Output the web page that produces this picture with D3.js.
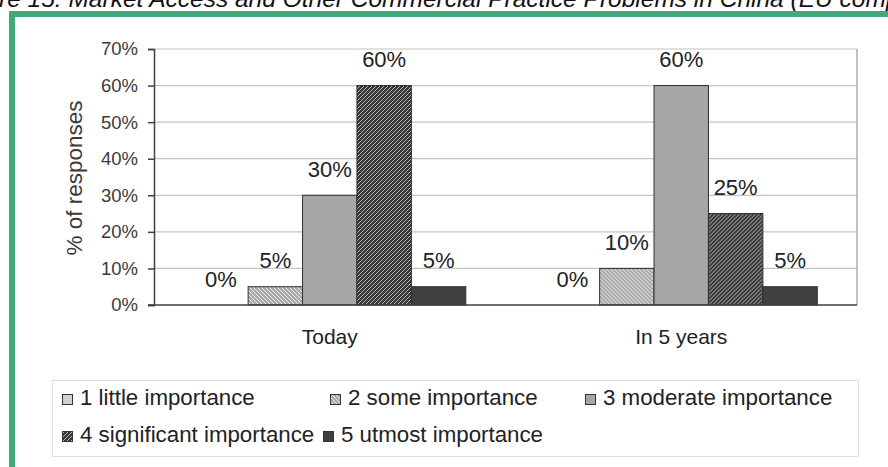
<!DOCTYPE html>
<html><head><meta charset="utf-8">
<script src="https://cdn.jsdelivr.net/npm/d3@7"></script>
<style>body{margin:0;background:#fff} svg{display:block} text{font-family:"Liberation Sans",Arial,sans-serif}</style>
</head><body><svg id="c" width="888" height="467"></svg>
<script>
const titleText = "Figure 15: Market Access and Other Commercial Practice Problems in China (EU companies)";
const categories = ["Today", "In 5 years"];
const seriesNames = ["1 little importance", "2 some importance", "3 moderate importance", "4 significant importance", "5 utmost importance"];
const todayValues = [0, 5, 30, 60, 5];
const in5YearsValues = [0, 10, 60, 25, 5];
const yTicks = [0, 10, 20, 30, 40, 50, 60, 70];
const yTitle = "% of responses";

(function () {
const valuesByCategory = [todayValues, in5YearsValues];
const svg = d3.select("#c");
const W = 888, H = 467;
svg.append("rect").attr("width", W).attr("height", H).attr("fill", "#fff");

// patterns
const defs = svg.append("defs");
const p2 = defs.append("pattern").attr("id", "hatchLight").attr("patternUnits", "userSpaceOnUse").attr("width", 4).attr("height", 4);
p2.append("rect").attr("width", 4).attr("height", 4).attr("fill", "#a9a9a9");
p2.append("path").attr("d", "M-1,-1L5,5M-1,3L1,5M3,-1L5,1").attr("stroke", "#ececec").attr("stroke-width", 1);
const p4 = defs.append("pattern").attr("id", "hatchDark").attr("patternUnits", "userSpaceOnUse").attr("width", 4).attr("height", 4);
p4.append("rect").attr("width", 4).attr("height", 4).attr("fill", "#383838");
p4.append("path").attr("d", "M-1,5L5,-1M-1,1L1,-1M3,5L5,3").attr("stroke", "#b8b8b8").attr("stroke-width", 1);

const fills = ["#d2d2d2", "url(#hatchLight)", "#a6a6a6", "url(#hatchDark)", "#404040"];

// title (partially cut off at top, as in the source)
const tSize = 24.5;
const t = svg.append("text").attr("y", 7).attr("font-size", tSize).attr("font-style", "italic").attr("fill", "#111").text(titleText);
const tmp = svg.append("text").attr("font-size", tSize).attr("font-style", "italic").text("Figu");
const off = tmp.node().getComputedTextLength();
tmp.remove();
t.attr("x", -off - 1);

// green frame
svg.append("rect").attr("x", 9).attr("y", 11).attr("width", W - 9).attr("height", 6).attr("fill", "#40a97b");
svg.append("rect").attr("x", 9).attr("y", 11).attr("width", 6).attr("height", H - 11).attr("fill", "#40a97b");

// scales
const pLeft = 154, pRight = 857, pTop = 49, pBottom = 305;
const x0 = d3.scaleBand().domain(categories).range([pLeft, pRight]).padding(0);
const x1 = d3.scaleBand().domain(seriesNames).range([0, x0.bandwidth()]).paddingInner(0).paddingOuter(0.73);
const y = d3.scaleLinear().domain([0, 70]).range([pBottom, pTop]);

// grid
svg.append("g").selectAll("line").data(yTicks.filter(d => d > 0)).join("line")
  .attr("x1", pLeft).attr("x2", pRight).attr("y1", d => y(d)).attr("y2", d => y(d))
  .attr("stroke", "#c4c4c4").attr("stroke-width", 1.2);
svg.append("line").attr("x1", pRight).attr("x2", pRight).attr("y1", pTop).attr("y2", pBottom).attr("stroke", "#9a9a9a").attr("stroke-width", 1.2);

// y axis
const yAxis = d3.axisLeft(y).tickValues(yTicks).tickFormat(d => d + "%").tickSize(6).tickPadding(10);
const gy = svg.append("g").attr("transform", `translate(${pLeft},0)`).call(yAxis);
gy.select(".domain").attr("stroke", "#404040").attr("stroke-width", 1.5);
gy.selectAll(".tick line").attr("stroke", "#404040").attr("stroke-width", 1.5);
gy.selectAll(".tick text").attr("font-size", 18.5).attr("fill", "#3a3a3a").attr("font-family", '"Liberation Sans",Arial,sans-serif');

svg.append("text").attr("transform", `translate(82,${(pTop + pBottom) / 2 + 1}) rotate(-90)`)
  .attr("text-anchor", "middle").attr("font-size", 22.5).attr("fill", "#3a3a3a").text(yTitle);

// bars
const groups = svg.append("g").selectAll("g").data(categories).join("g")
  .attr("transform", d => `translate(${x0(d)},0)`);
groups.selectAll("rect").data((c, i) => valuesByCategory[i].map((v, j) => ({ s: seriesNames[j], v, j })))
  .join("rect")
  .attr("x", d => x1(d.s)).attr("width", x1.bandwidth())
  .attr("y", d => y(d.v)).attr("height", d => y(0) - y(d.v))
  .attr("fill", d => fills[d.j]).attr("stroke", d => d.v > 0 ? "#2e2e2e" : "none").attr("stroke-width", 1);
groups.selectAll("text").data((c, i) => valuesByCategory[i].map((v, j) => ({ s: seriesNames[j], v, j })))
  .join("text")
  .attr("x", d => x1(d.s) + x1.bandwidth() / 2).attr("y", d => y(d.v) - 18.5)
  .attr("text-anchor", "middle").attr("font-size", 22).attr("fill", "#222").text(d => d.v + "%");

// x axis
const xAxis = d3.axisBottom(x0).tickSize(0).tickPadding(24);
const gx = svg.append("g").attr("transform", `translate(0,${pBottom})`).call(xAxis);
gx.select(".domain").attr("d", `M${pLeft - 6},0H${pRight}`).attr("stroke", "#404040").attr("stroke-width", 1.5);
gx.selectAll(".tick text").attr("font-size", 21).attr("fill", "#222").attr("font-family", '"Liberation Sans",Arial,sans-serif');

// legend
svg.append("rect").attr("x", 52.5).attr("y", 380.5).attr("width", 806).attr("height", 76)
  .attr("fill", "#fff").attr("stroke", "#dedede").attr("stroke-width", 1);
const legendPos = [[62, 405], [330, 405], [585, 405], [62, 442], [323, 442]];
const lg = svg.append("g").selectAll("g").data(seriesNames).join("g")
  .attr("transform", (d, i) => `translate(${legendPos[i][0]},${legendPos[i][1]})`);
lg.append("rect").attr("x", 0.5).attr("y", -10.5).attr("width", 10).attr("height", 10)
  .attr("fill", (d, i) => fills[i]).attr("stroke", "#333").attr("stroke-width", 1);
lg.append("text").attr("x", 18).attr("y", 0).attr("font-size", 22.3).attr("fill", "#222").text(d => d);
})();
</script></body></html>
